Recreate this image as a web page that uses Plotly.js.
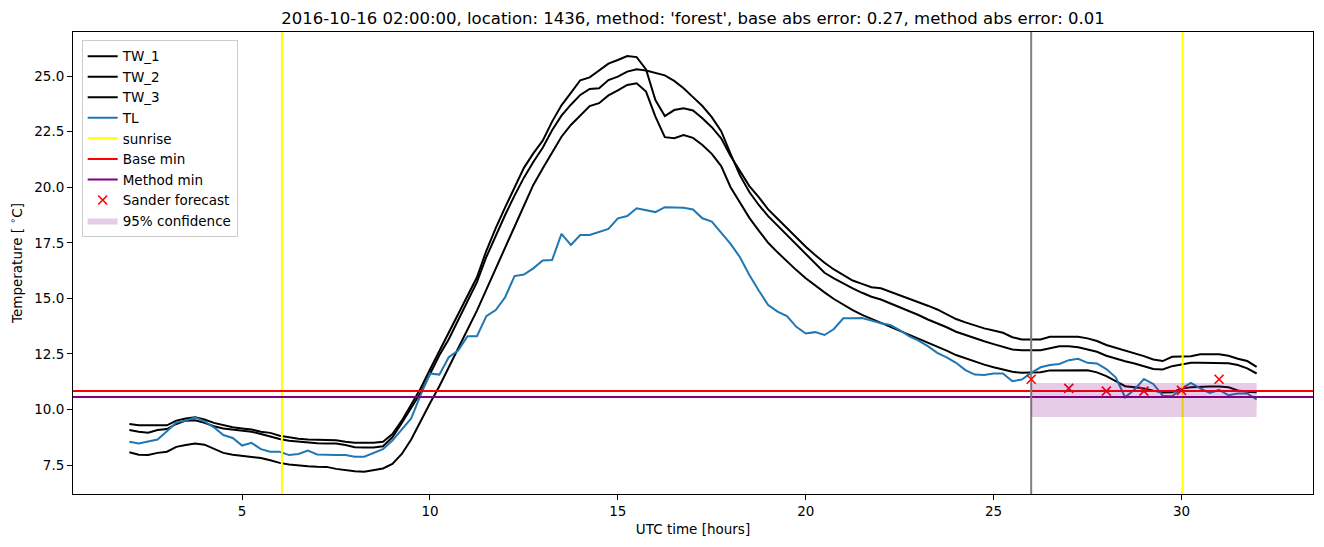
<html lang="en">
  <head>
    <meta charset="UTF-8" />
    <title>Minimum temperature forecast</title>
    <script src="https://cdn.plot.ly/plotly-3.0.1.min.js"></script>
    <style>
      body { margin: 0; background: #fff; }
    </style>
  </head>
  <body>
    <div id="chart" style="width:1324px; height:547px;"></div>
    <script>
      // UTC hours, sampled every 15 minutes from 02:00 to 32:00
      const startHour = 2;
      const stepHour = 0.25;

      const tw1 = [
        9.35, 9.29, 9.29, 9.29, 9.29, 9.5, 9.6, 9.65, 9.55, 9.4, 9.3, 9.2,
        9.15, 9.1, 9.0, 8.95, 8.82, 8.75, 8.68, 8.65, 8.65, 8.63, 8.62, 8.55,
        8.5, 8.5, 8.5, 8.55, 8.9, 9.5, 10.2, 10.95, 11.8, 12.62, 13.43, 14.25,
        15.08, 15.95, 17.14, 18.16, 19.09, 19.95, 20.87, 21.52, 22.09, 22.95, 23.68, 24.24,
        24.81, 24.94, 25.25, 25.56, 25.72, 25.9, 25.85, 25.3, 23.92, 23.2, 23.47, 23.55,
        23.45, 23.1, 22.7, 22.2, 21.4, 20.7, 20.05, 19.55, 19.0, 18.58, 18.15, 17.73,
        17.32, 16.95, 16.6, 16.3, 16.05, 15.8, 15.65, 15.5, 15.45, 15.3, 15.13, 15.0,
        14.85, 14.67, 14.5, 14.3, 14.07, 13.92, 13.77, 13.65, 13.55, 13.45, 13.25, 13.15,
        13.15, 13.15, 13.27, 13.27, 13.27, 13.27, 13.2, 13.08, 12.9, 12.78, 12.65, 12.52,
        12.4, 12.25, 12.18, 12.37, 12.37, 12.4, 12.49, 12.49, 12.49, 12.42, 12.28, 12.18,
        11.92
      ];
      const tw2 = [
        9.08, 9.0, 8.96, 9.08, 9.12, 9.35, 9.5, 9.52, 9.4, 9.25, 9.15, 9.1,
        9.05, 9.0, 8.9, 8.78, 8.67, 8.6, 8.55, 8.5, 8.48, 8.47, 8.47, 8.4,
        8.3, 8.29, 8.29, 8.35, 8.75, 9.4, 10.05, 10.75, 11.6, 12.44, 13.16, 14.02,
        14.9, 15.73, 16.86, 17.83, 18.75, 19.62, 20.43, 21.13, 21.77, 22.56, 23.22, 23.71,
        24.15, 24.42, 24.45, 24.82, 24.97, 25.2, 25.3, 25.25, 25.15, 25.03, 24.78, 24.45,
        24.05, 23.65, 23.15, 22.52, 21.5, 20.53, 19.78, 19.2, 18.7, 18.28, 17.85, 17.43,
        17.0, 16.58, 16.15, 15.9, 15.67, 15.45, 15.25, 15.07, 14.95, 14.78, 14.6, 14.42,
        14.25, 14.05, 13.88, 13.7, 13.5, 13.35, 13.2, 13.07, 12.94, 12.83, 12.7, 12.67,
        12.67, 12.67, 12.76, 12.85, 12.85, 12.8, 12.7, 12.6, 12.42, 12.28, 12.17, 12.07,
        11.95, 11.82, 11.8, 11.95, 12.02, 12.1, 12.1, 12.1, 12.1, 12.08, 12.0, 11.85,
        11.62
      ];
      const tw3 = [
        8.08, 7.97, 7.95, 8.05, 8.1, 8.32, 8.4, 8.47, 8.42, 8.22, 8.05, 7.97,
        7.93, 7.88, 7.82, 7.72, 7.6, 7.53, 7.48, 7.45, 7.43, 7.42, 7.33, 7.26,
        7.22, 7.2, 7.27, 7.35, 7.55, 8.0, 8.65, 9.5, 10.28, 11.05, 11.92, 12.75,
        13.6, 14.45, 15.37, 16.3, 17.28, 18.22, 19.15, 20.1, 20.84, 21.58, 22.27, 22.8,
        23.22, 23.65, 23.78, 24.13, 24.35, 24.6, 24.67, 24.3, 23.17, 22.25, 22.2, 22.34,
        22.22, 21.9, 21.5, 20.95, 20.0, 19.28, 18.62, 18.05, 17.5, 17.07, 16.65, 16.27,
        15.9, 15.57, 15.27, 14.97, 14.72, 14.47, 14.26, 14.08, 13.91, 13.73, 13.55, 13.37,
        13.2, 13.02, 12.85, 12.65, 12.45, 12.3, 12.15, 12.02, 11.9, 11.8, 11.7, 11.65,
        11.65, 11.68, 11.76, 11.77, 11.77, 11.77, 11.77, 11.67, 11.5, 11.28, 11.05, 11.0,
        10.95, 10.85, 10.77, 10.78, 10.94, 11.0, 11.03, 11.04, 11.03, 11.0, 10.86, 10.8,
        10.78
      ];
      const tl = [
        8.55, 8.47, 8.56, 8.65, 9.02, 9.42, 9.5, 9.65, 9.47, 9.2, 8.85, 8.72,
        8.38, 8.5, 8.22, 8.1, 8.1, 7.95, 8.0, 8.15, 7.98, 7.95, 7.95, 7.95,
        7.88, 7.88, 8.05, 8.22, 8.6, 9.1, 9.6, 10.65, 11.62, 11.57, 12.35, 12.65,
        13.3, 13.3, 14.2, 14.47, 15.05, 16.0, 16.07, 16.35, 16.7, 16.72, 17.9, 17.4,
        17.85, 17.85, 18.0, 18.12, 18.6, 18.7, 19.05, 18.95, 18.88, 19.1, 19.1, 19.07,
        19.0, 18.6, 18.45, 17.95, 17.45, 16.85, 16.05, 15.35, 14.7, 14.4, 14.2, 13.72,
        13.42, 13.48, 13.35, 13.62, 14.1, 14.1, 14.12, 14.0, 13.88, 13.8, 13.57, 13.3,
        13.1, 12.85, 12.55, 12.35, 12.1, 11.77, 11.57, 11.55, 11.62, 11.62, 11.27, 11.35,
        11.65, 11.9, 12.0, 12.05, 12.22, 12.28, 12.1, 12.07, 11.82, 11.45, 10.55, 10.9,
        11.37, 11.15, 10.62, 10.6, 10.94, 11.2, 10.95, 10.75, 10.88, 10.64, 10.72, 10.72,
        10.45
      ];

      const hours = tl.map((_, i) => startHour + i * stepHour);

      const sunrise = [6.06, 30.03];
      const forecastStart = 26;
      const baseMin = 10.83;
      const methodMin = 10.56;

      const sanderHours = [26, 27, 28, 29, 30, 31];
      const sanderTemp = [11.36, 10.95, 10.83, 10.83, 10.86, 11.36];

      const confHours = [26, 32];
      const confLow = 9.66;
      const confHigh = 11.19;

      const xRange = [0.5, 33.5];
      const yRange = [6.2, 26.98];

      const font = 'DejaVu Sans, sans-serif';

      const vLine = (xs) => ({
        x: xs.flatMap(v => [v, v, null]),
        y: xs.flatMap(() => [yRange[0], yRange[1], null])
      });

      const traces = [
        { x: hours, y: tw1, name: 'TW_1', mode: 'lines', line: { color: 'black', width: 2 } },
        { x: hours, y: tw2, name: 'TW_2', mode: 'lines', line: { color: 'black', width: 2 } },
        { x: hours, y: tw3, name: 'TW_3', mode: 'lines', line: { color: 'black', width: 2 } },
        { x: hours, y: tl, name: 'TL', mode: 'lines', line: { color: '#1f77b4', width: 2 } },
        Object.assign(vLine(sunrise), { name: 'sunrise', mode: 'lines', line: { color: '#ffff00', width: 2 } }),
        { x: xRange, y: [baseMin, baseMin], name: 'Base min', mode: 'lines', line: { color: '#ff0000', width: 2 } },
        { x: xRange, y: [methodMin, methodMin], name: 'Method min', mode: 'lines', line: { color: '#800080', width: 2 } },
        Object.assign(vLine([forecastStart]), { showlegend: false, mode: 'lines', line: { color: '#808080', width: 2 } }),
        {
          x: sanderHours, y: sanderTemp, name: 'Sander forecast', mode: 'markers',
          marker: { symbol: 'x-thin', size: 9, color: '#ff0000', line: { color: '#ff0000', width: 1.6 } }
        },
        {
          x: [confHours[0], confHours[1], confHours[1], confHours[0], confHours[0]],
          y: [confLow, confLow, confHigh, confHigh, confLow],
          name: '95% confidence', mode: 'lines', fill: 'toself',
          fillcolor: 'rgba(128,0,128,0.2)', line: { width: 0, color: 'rgba(0,0,0,0)' }
        }
      ];

      const axisCommon = {
        showline: true, mirror: true, linecolor: 'black', linewidth: 1,
        ticks: 'outside', ticklen: 5, tickwidth: 1, tickcolor: 'black',
        showgrid: false, zeroline: false,
        tickfont: { family: font, size: 13.5, color: 'black' }
      };

      const layout = {
        width: 1324, height: 547,
        margin: { l: 73, r: 11, t: 32, b: 53 },
        paper_bgcolor: 'white', plot_bgcolor: 'white',
        font: { family: font, color: 'black' },
        title: {
          text: "2016-10-16 02:00:00, location: 1436, method: 'forest', base abs error: 0.27, method abs error: 0.01",
          font: { family: font, size: 16.5, color: 'black' },
          x: 0.5, xref: 'paper', y: 0.967, yref: 'container', yanchor: 'middle'
        },
        xaxis: Object.assign({}, axisCommon, {
          range: xRange, tickvals: [5, 10, 15, 20, 25, 30],
          title: { text: 'UTC time [hours]', font: { family: font, size: 13.5 }, standoff: 6 }
        }),
        yaxis: Object.assign({}, axisCommon, {
          range: yRange, tickvals: [7.5, 10, 12.5, 15, 17.5, 20, 22.5, 25], tickformat: '.1f',
          title: { text: 'Temperature [ <sup>∘</sup>C]', font: { family: font, size: 13.5 }, standoff: 8 }
        }),
        showlegend: true,
        legend: {
          x: 0.007, y: 0.983, xanchor: 'left', yanchor: 'top',
          bgcolor: 'rgba(255,255,255,0.8)', bordercolor: '#cccccc', borderwidth: 1,
          font: { family: font, size: 13.5, color: 'black' },
          itemwidth: 30, tracegroupgap: 0
        },
        hovermode: false
      };

      Plotly.newPlot('chart', traces, layout, { staticPlot: true });
    </script>
  </body>
</html>
